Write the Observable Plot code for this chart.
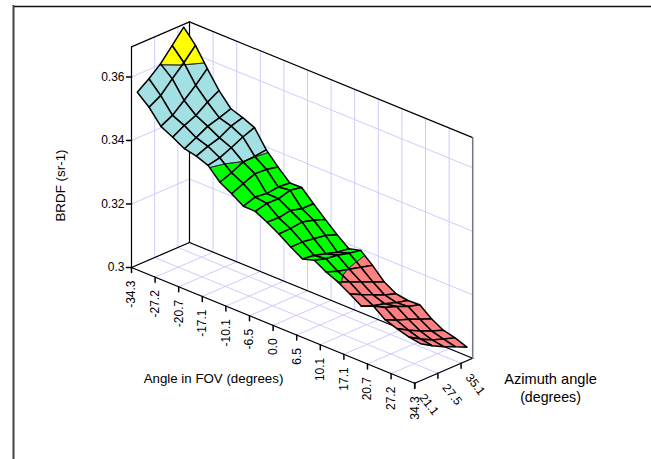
<!DOCTYPE html>
<html><head><meta charset="utf-8">
<style>html,body{margin:0;padding:0;background:#fff;overflow:hidden}svg{display:block}</style>
<script src="https://cdn.jsdelivr.net/npm/d3@7"></script>
<script src="https://cdn.jsdelivr.net/npm/@observablehq/plot@0.6"></script>
</head><body><script>
const fovLabels = ["-34.3","-27.2","-20.7","-17.1","-10.1","-6.5","0.0","6.5","10.1","17.1","20.7","27.2","34.3"];
const azLabels = ["21.1","27.5","35.1"];
const brdfTicks = [0.30,0.32,0.34,0.36];
const brdfTickLabels = ["0.3","0.32","0.34","0.36"];
const brdfRows = [
[.3544,.3571,.3602,.3644,.3686],
[.3512,.3533,.3570,.3605,.3644],
[.3467,.3486,.3517,.3549,.3586],
[.3448,.3469,.3485,.3511,.3532],
[.3427,.3446,.3466,.3477,.3490],
[.3419,.3434,.3445,.3466,.3477],
[.3405,.3413,.3429,.3447,.3461],
[.3367,.3381,.3399,.3401,.3406],
[.3346,.3362,.3377,.3375,.3367],
[.3322,.3335,.3330,.3335,.3332],
[.3321,.3330,.3329,.3340,.3333],
[.3302,.3300,.3307,.3297,.3297],
[.3280,.3281,.3286,.3276,.3263],
[.3254,.3254,.3249,.3243,.3230],
[.3232,.3227,.3217,.3206,.3201],
[.3243,.3232,.3227,.3218,.3211],
[.3221,.3208,.3198,.3189,.3179],
[.3205,.3189,.3173,.3158,.3142],
[.3183,.3164,.3148,.3132,.3120],
[.3159,.3145,.3135,.3123,.3114],
[.3175,.3154,.3142,.3126,.3116],
[.3147,.3129,.3117,.3101,.3087],
[.3134,.3113,.3095,.3079,.3066],
[.3123,.3101,.3082,.3069,.3057],
[.3117,.3095,.3076,.3060,.3043]
];
const bandLevels = [0.30,0.32,0.34,0.36,0.40];
const bandColors = ["#ff8080","#00ff00","#a3e0e3","#ffff00"];
const titleFov = "Angle in FOV (degrees)";
const titleBrdf = "BRDF (sr-1)";
const titleAz = ["Azimuth angle","(degrees)"];

// oblique 3D projection: FOV tick index t, azimuth tick position j, BRDF z
const azMax = 2.5, zTop = 0.3695;
const px = (t,j) => 131 + 23.6*t + 23.2*j;
const py = (t,j,z) => 267 + 9.65*t - 10*j - (z-0.3)*3175;
const P = (t,j,z) => ({x:px(t,j), y:py(t,j,z)});
const seg = (a,b,o={}) => [{...P(...a),...o},{...P(...b),...o}];

// wall/floor gridlines
const grid = [];
const addG = (id,a,b)=>grid.push(...seg(a,b,{id}));
fovLabels.forEach((_,t)=>{
  addG("fl"+t,[t,0,.3],[t,azMax,.3]);
  addG("bw"+t,[t,azMax,.3],[t,azMax,zTop]);
});
[0,1,2].forEach(j=>{
  addG("ff"+j,[0,j,.3],[12,j,.3]);
  addG("lw"+j,[0,j,.3],[0,j,zTop]);
});
brdfTicks.forEach(z=>{
  addG("lz"+z,[0,0,z],[0,azMax,z]);
  addG("bz"+z,[0,azMax,z],[12,azMax,z]);
});

// box edges
const box = [
 [[0,0,.3],[12,0,.3]],[[12,0,.3],[12,azMax,.3]],[[0,0,.3],[0,azMax,.3]],[[0,azMax,.3],[12,azMax,.3]],
 [[0,0,.3],[0,0,zTop]],[[0,0,zTop],[0,azMax,zTop]],[[0,azMax,.3],[0,azMax,zTop]],[[0,azMax,zTop],[12,azMax,zTop]]
].flatMap((s,n)=>seg(s[0],s[1],{id:n}));
const rightEdge = seg([12,azMax,.3],[12,azMax,zTop],{id:"r"});

// surface: split every mesh cell into colour bands, back to front
const pieces = [];
let pid = 0;
const gt = i => i/2, gj = k => 0.25 + k/2;
function clip(poly,lev,keepAbove){
  const out=[];
  poly.forEach((a,n)=>{
    const b=poly[(n+1)%poly.length];
    const ia = keepAbove? a[2]>=lev : a[2]<=lev, ib = keepAbove? b[2]>=lev : b[2]<=lev;
    if(ia) out.push(a);
    if(ia!==ib){const u=(lev-a[2])/(b[2]-a[2]); out.push([a[0]+u*(b[0]-a[0]),a[1]+u*(b[1]-a[1]),lev]);}
  });
  return out;
}
const push=(poly,o)=>{const id=pid++; poly.forEach(p=>pieces.push({...P(...p),id,...o}));};
for(let i=0;i<brdfRows.length-1;i++){
  for(let k=brdfRows[0].length-2;k>=0;k--){
    const quad=[[gt(i),gj(k),brdfRows[i][k]],[gt(i+1),gj(k),brdfRows[i+1][k]],[gt(i+1),gj(k+1),brdfRows[i+1][k+1]],[gt(i),gj(k+1),brdfRows[i][k+1]]];
    bandColors.forEach((c,b)=>{
      let poly=clip(quad,bandLevels[b],true);
      if(poly.length) poly=clip(poly,bandLevels[b+1],false);
      if(poly.length>2) push(poly,{f:c,s:"none",w:0});
    });
    bandLevels.slice(1,4).forEach(lev=>{
      const cross=[];
      quad.forEach((a,n)=>{const b=quad[(n+1)%4];
        if((a[2]-lev)*(b[2]-lev)<0){const u=(lev-a[2])/(b[2]-a[2]);cross.push([a[0]+u*(b[0]-a[0]),a[1]+u*(b[1]-a[1]),lev]);}});
      if(cross.length===2) push(cross,{f:"none",s:"#222",w:0.8});
    });
    push(quad,{f:"none",s:"#000",w:1.5});
  }
}

const fovTickRows = fovLabels.map((label,t)=>({label,...P(t,0,.3)}));
const azTickRows = azLabels.map((label,j)=>({label,...P(12,j,.3)}));
const zTickRows = brdfTicks.map((z,n)=>({label:brdfTickLabels[n],...P(0,0,z)}));
const tick=(rows,dx,dy)=>rows.flatMap((r,n)=>[{x:r.x,y:r.y,id:n},{x:r.x+dx,y:r.y+dy,id:n}]);
const font="Liberation Sans, Arial, sans-serif";

const chart = Plot.plot({
  width:651,height:459,margin:0,
  x:{domain:[0,651],range:[0,651],axis:null},
  y:{domain:[0,459],range:[0,459],axis:null},
  color:{type:"identity"},
  style:{background:"#fff",fontFamily:font},
  marks:[
    Plot.ruleY([6],{x1:13,x2:651,stroke:"#111",strokeWidth:1.5}),
    Plot.ruleX([13],{y1:5,y2:459,stroke:"#444",strokeWidth:2}),
    Plot.line(grid,{x:"x",y:"y",z:"id",stroke:"#ccccff",strokeWidth:1}),
    Plot.line(box,{x:"x",y:"y",z:"id",stroke:"#000",strokeWidth:1.2}),
    Plot.line(rightEdge,{x:"x",y:"y",z:"id",stroke:"#777788",strokeWidth:1.5}),
    Plot.line(pieces,{x:"x",y:"y",z:"id",fill:"f",stroke:"s",strokeWidth:"w",curve:"linear-closed",strokeLinejoin:"round"}),
    Plot.line(tick(fovTickRows,0,5),{x:"x",y:"y",z:"id",stroke:"#000"}),
    Plot.line(tick(azTickRows,0,5),{x:"x",y:"y",z:"id",stroke:"#000"}),
    Plot.line(tick(zTickRows,-5,0),{x:"x",y:"y",z:"id",stroke:"#000"}),
    Plot.text(fovTickRows,{x:"x",y:d=>d.y+13,text:"label",rotate:-90,textAnchor:"end",fontSize:12,fill:"#000"}),
    Plot.text(azTickRows,{x:d=>d.x+7,y:d=>d.y+12,text:"label",rotate:52,textAnchor:"start",fontSize:12,fill:"#000"}),
    Plot.text(zTickRows,{x:d=>d.x-7,y:"y",text:"label",textAnchor:"end",fontSize:12,fill:"#000"}),
    Plot.text([titleBrdf],{x:[60],y:[185],text:d=>d,rotate:-90,fontSize:13.4,fill:"#000"}),
    Plot.text([titleFov],{x:[213],y:[378],text:d=>d,fontSize:13.3,fill:"#000"}),
    Plot.text([titleAz[0]],{x:[550],y:[379],text:d=>d,fontSize:14.6,fill:"#000"}),
    Plot.text([titleAz[1]],{x:[550],y:[397],text:d=>d,fontSize:14.2,fill:"#000"})
  ]
});
document.body.appendChild(chart);
</script></body></html>
